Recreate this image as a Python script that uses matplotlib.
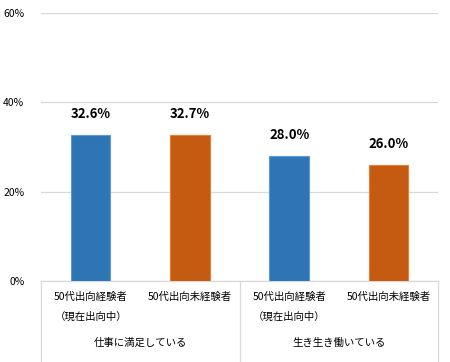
import matplotlib.pyplot as plt
import matplotlib.transforms as mtransforms

plt.rcParams['font.family'] = ['Noto Sans CJK JP', 'DejaVu Sans']

# data
sub_labels = ['50代出向経験者', '50代出向未経験者', '50代出向経験者', '50代出向未経験者']
sub_notes = ['（現在出向中）', '', '（現在出向中）', '']
group_labels = ['仕事に満足している', '生き生き働いている']
values = [32.6, 32.7, 28.0, 26.0]
colors = ['#2E75B6', '#C55A11', '#2E75B6', '#C55A11']
edges = ['#5B9BD5', '#ED7D31', '#5B9BD5', '#ED7D31']
yticks = [0, 20, 40, 60]

fig = plt.figure(figsize=(4.5, 3.62), dpi=100)
ax = fig.add_axes([41 / 450, 1 - 281 / 362, 397 / 450, 268 / 362])

x = list(range(len(values)))
ax.bar(x, values, width=0.4, color=colors, edgecolor=edges, linewidth=0.8, zorder=3)
for xi, v in zip(x, values):
    ax.text(xi, v + 3.2, f'{v:.1f}%', ha='center', va='bottom',
            fontsize=9.5, fontweight='bold', color='#000000')

ax.set_xlim(-0.5, 3.5)
ax.set_ylim(0, 60)
ax.set_yticks(yticks)
ax.set_yticklabels([f'{t}%' for t in yticks], fontsize=7.5)
ax.yaxis.grid(True, color='#D9D9D9', linewidth=0.9, zorder=0)
ax.tick_params(axis='y', length=0, pad=12)
ax.set_xticks([])
for s in ax.spines.values():
    s.set_visible(False)

# category axis lines
trans = mtransforms.blended_transform_factory(ax.transData, ax.transAxes)
bottom = -81 / 268
ax.plot([-0.5, 3.5], [0, 0], transform=trans, color='#D9D9D9', lw=0.9, clip_on=False)
for xv in [-0.5, 1.5, 3.5]:
    ax.plot([xv, xv], [0, bottom], transform=trans, color='#D9D9D9', lw=0.9, clip_on=False)

for xi, lab, note in zip(x, sub_labels, sub_notes):
    ax.text(xi, -16 / 268, lab, transform=trans, ha='center', va='center',
            fontsize=7.5, color='#000000')
    if note:
        ax.text(xi, -36 / 268, note, transform=trans, ha='center', va='center',
                fontsize=7.5, color='#000000')
for gi, g in enumerate(group_labels):
    ax.text(2 * gi + 0.5, -62 / 268, g, transform=trans, ha='center', va='center',
            fontsize=7.5, color='#000000')

fig.savefig('out.png', dpi=100)
